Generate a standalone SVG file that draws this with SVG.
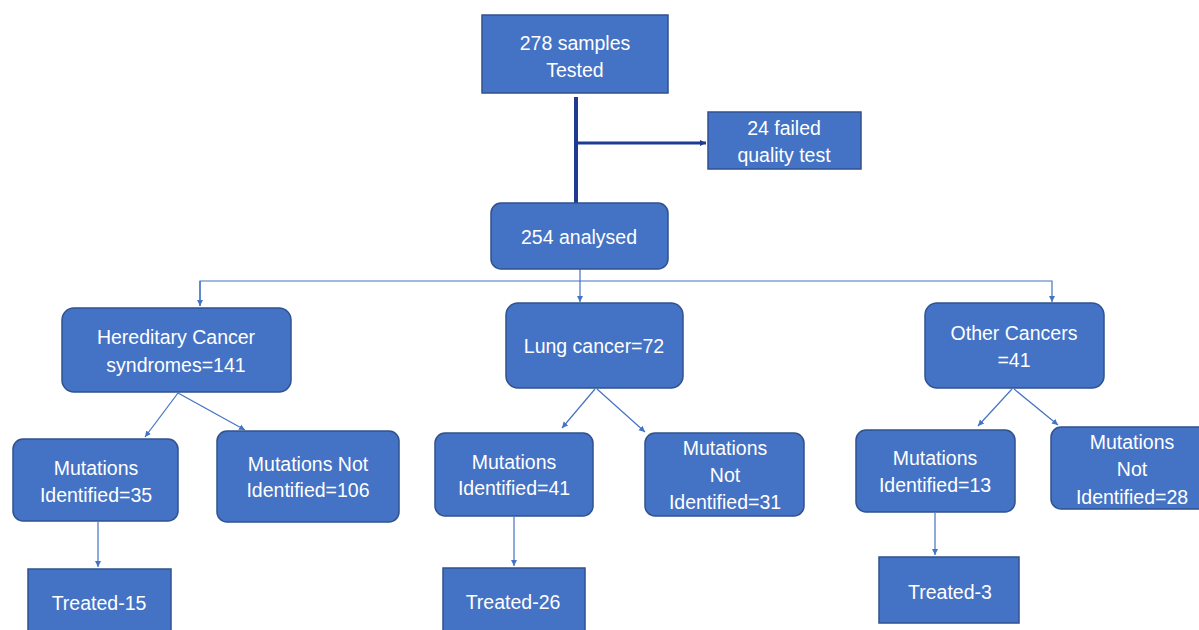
<svg xmlns="http://www.w3.org/2000/svg" width="1199" height="630" viewBox="0 0 1199 630">
<defs>
<style>
.box{fill:#4472C4;stroke:#2F528F;stroke-width:1.5}
.t{font-family:"Liberation Sans",Arial,sans-serif;font-size:19.5px;fill:#ffffff;text-anchor:middle}
.c{stroke:#4472C4;stroke-width:1.2;fill:none}
.thick{stroke:#1F3A93;stroke-width:4;fill:none}
</style>
<marker id="ah" markerWidth="8" markerHeight="8" refX="6" refY="4" orient="auto" markerUnits="userSpaceOnUse">
<path d="M0,1 L6,4 L0,7 Z" fill="#4472C4"/>
</marker>
<marker id="ahd" markerWidth="8" markerHeight="8" refX="6" refY="4" orient="auto" markerUnits="userSpaceOnUse">
<path d="M0,1 L6,4 L0,7 Z" fill="#1F3A93"/>
</marker>
</defs>
<rect width="1199" height="630" fill="#ffffff"/>
<g id="connectors">
<line class="thick" x1="576" y1="97" x2="576" y2="203"/>
<line x1="576" y1="143" x2="706" y2="143" stroke="#1F3A93" stroke-width="3" marker-end="url(#ahd)"/>
<line class="c" x1="580" y1="269" x2="580" y2="302" marker-end="url(#ah)"/>
<polyline class="c" points="200,306 200,281 1052,281 1052,302" marker-end="url(#ah)"/>
<line class="c" x1="200" y1="281" x2="200" y2="306" marker-end="url(#ah)"/>
<line class="c" x1="178" y1="393" x2="145" y2="437" marker-end="url(#ah)"/>
<line class="c" x1="178" y1="393" x2="245" y2="430" marker-end="url(#ah)"/>
<line class="c" x1="98" y1="522" x2="98" y2="567" marker-end="url(#ah)"/>
<line class="c" x1="595" y1="389" x2="562" y2="428" marker-end="url(#ah)"/>
<line class="c" x1="597" y1="389" x2="645" y2="432" marker-end="url(#ah)"/>
<line class="c" x1="514" y1="517" x2="514" y2="566" marker-end="url(#ah)"/>
<line class="c" x1="1012" y1="389" x2="978" y2="426" marker-end="url(#ah)"/>
<line class="c" x1="1014" y1="389" x2="1058" y2="425" marker-end="url(#ah)"/>
<line class="c" x1="935" y1="513" x2="935" y2="555" marker-end="url(#ah)"/>
</g>
<g id="n-samples"><rect class="box" x="482" y="15" width="186" height="78"/><text class="t" x="575" y="50">278 samples</text><text class="t" x="575" y="77">Tested</text></g>
<g id="n-failed"><rect class="box" x="708" y="112" width="153" height="57"/><text class="t" x="784" y="135">24 failed</text><text class="t" x="784" y="162">quality test</text></g>
<g id="n-analysed"><rect class="box" x="491" y="203" width="177" height="66" rx="10"/><text class="t" x="579" y="244">254 analysed</text></g>
<g id="n-hered"><rect class="box" x="62" y="308" width="229" height="84" rx="12"/><text class="t" x="176" y="344">Hereditary Cancer</text><text class="t" x="176" y="372">syndromes=141</text></g>
<g id="n-lung"><rect class="box" x="506" y="303" width="177" height="85" rx="12"/><text class="t" x="594" y="353">Lung cancer=72</text></g>
<g id="n-other"><rect class="box" x="925" y="303" width="179" height="85" rx="12"/><text class="t" x="1014" y="340">Other Cancers</text><text class="t" x="1014" y="367">=41</text></g>
<g id="n-h-mi"><rect class="box" x="13" y="439" width="165" height="82" rx="10"/><text class="t" x="96" y="475">Mutations</text><text class="t" x="96" y="502">Identified=35</text></g>
<g id="n-h-mni"><rect class="box" x="217" y="431" width="182" height="91" rx="10"/><text class="t" x="308" y="471">Mutations Not</text><text class="t" x="308" y="497">Identified=106</text></g>
<g id="n-l-mi"><rect class="box" x="435" y="433" width="158" height="83" rx="10"/><text class="t" x="514" y="469">Mutations</text><text class="t" x="514" y="495">Identified=41</text></g>
<g id="n-l-mni"><rect class="box" x="645" y="433" width="159" height="83" rx="10"/><text class="t" x="725" y="455">Mutations</text><text class="t" x="725" y="482">Not</text><text class="t" x="725" y="509">Identified=31</text></g>
<g id="n-o-mi"><rect class="box" x="856" y="430" width="159" height="82" rx="10"/><text class="t" x="935" y="465">Mutations</text><text class="t" x="935" y="492">Identified=13</text></g>
<g id="n-o-mni"><rect class="box" x="1051" y="427" width="158" height="82" rx="10"/><text class="t" x="1132" y="449">Mutations</text><text class="t" x="1132" y="476">Not</text><text class="t" x="1132" y="504">Identified=28</text></g>
<g id="n-h-t"><rect class="box" x="28" y="569" width="143" height="70"/><text class="t" x="99" y="610">Treated-15</text></g>
<g id="n-l-t"><rect class="box" x="443" y="568" width="142" height="70"/><text class="t" x="513" y="609">Treated-26</text></g>
<g id="n-o-t"><rect class="box" x="879" y="557" width="140" height="66"/><text class="t" x="950" y="599">Treated-3</text></g>
</svg>
